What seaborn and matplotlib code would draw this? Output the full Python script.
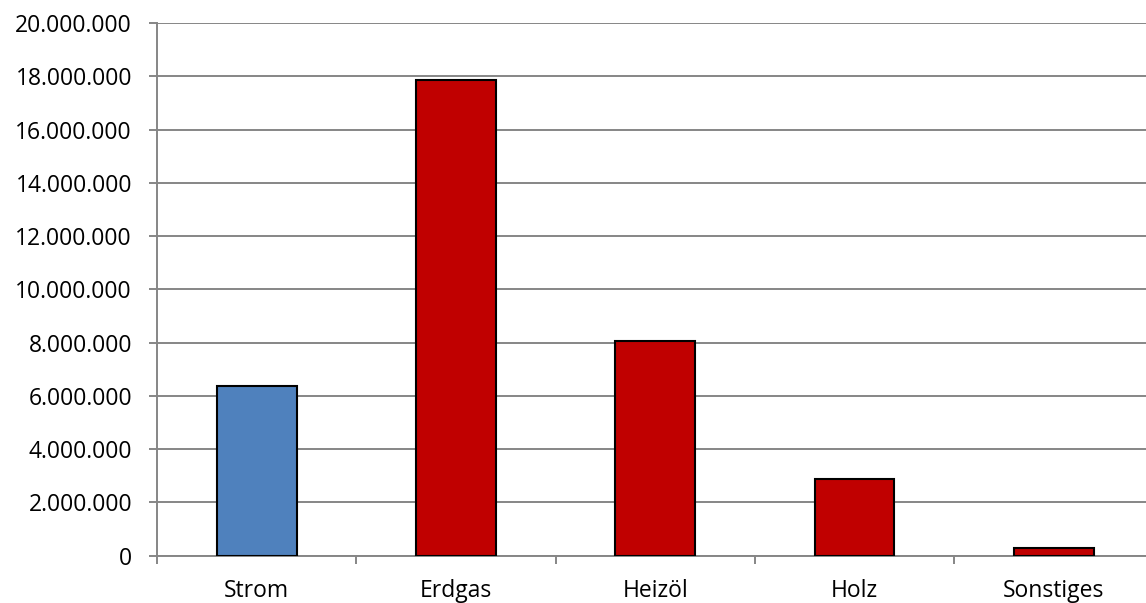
import seaborn as sns
import matplotlib.pyplot as plt
import pandas as pd
from matplotlib.ticker import FuncFormatter, FixedLocator

# --- Data ---
categories = ['Strom', 'Erdgas', 'Heizöl', 'Holz', 'Sonstiges']
values = [6380000, 17850000, 8060000, 2890000, 280000]
bar_colors = ['#4F81BD', '#C00000', '#C00000', '#C00000', '#C00000']

df = pd.DataFrame({'Energietraeger': categories, 'Wert': values})

sns.set_theme(style="white")
plt.rcParams['font.family'] = ['Open Sans', 'DejaVu Sans']

grid_col = '#868686'

fig = plt.figure(figsize=(11.46, 6.03), dpi=100)
# plot area runs off the right edge of the image, like the reference
ax = fig.add_axes([157 / 1146, 47.3 / 603, 996.5 / 1146, 532.7 / 603])

sns.barplot(data=df, x='Energietraeger', y='Wert', hue='Energietraeger',
            palette=dict(zip(categories, bar_colors)), legend=False,
            width=0.4, edgecolor='black', linewidth=1.5, saturation=1,
            zorder=3, ax=ax)

ax.set_xlim(-0.5, len(categories) - 0.5)
ax.set_ylim(0, 20000000)
ax.set_yticks(range(0, 20000001, 2000000))
ax.yaxis.set_major_formatter(FuncFormatter(lambda v, p: f"{int(v):,}".replace(',', '.')))

# gridlines in Excel style
ax.grid(axis='y', color=grid_col, linewidth=1.4, zorder=0)
ax.set_axisbelow(True)

# x ticks sit between categories, labels in the middle
ax.xaxis.set_major_locator(FixedLocator([i - 0.5 for i in range(len(categories) + 1)]))
ax.xaxis.set_minor_locator(FixedLocator(list(range(len(categories)))))
ax.set_xticklabels([], minor=False)
ax.set_xticklabels(categories, minor=True)
ax.tick_params(axis='x', which='major', length=6, width=1.4, color=grid_col, direction='out', bottom=True)
ax.tick_params(axis='x', which='minor', length=0, pad=17, labelsize=16.5, labelcolor='black')
ax.tick_params(axis='y', length=6, width=1.4, color=grid_col, direction='out', left=True,
               pad=12, labelsize=16.5, labelcolor='black')

for side in ['top', 'right']:
    ax.spines[side].set_visible(False)
for side in ['left', 'bottom']:
    ax.spines[side].set_color(grid_col)
    ax.spines[side].set_linewidth(1.4)

ax.set_xlabel('')
ax.set_ylabel('')

fig.savefig('out.png', dpi=100)
plt.close()
